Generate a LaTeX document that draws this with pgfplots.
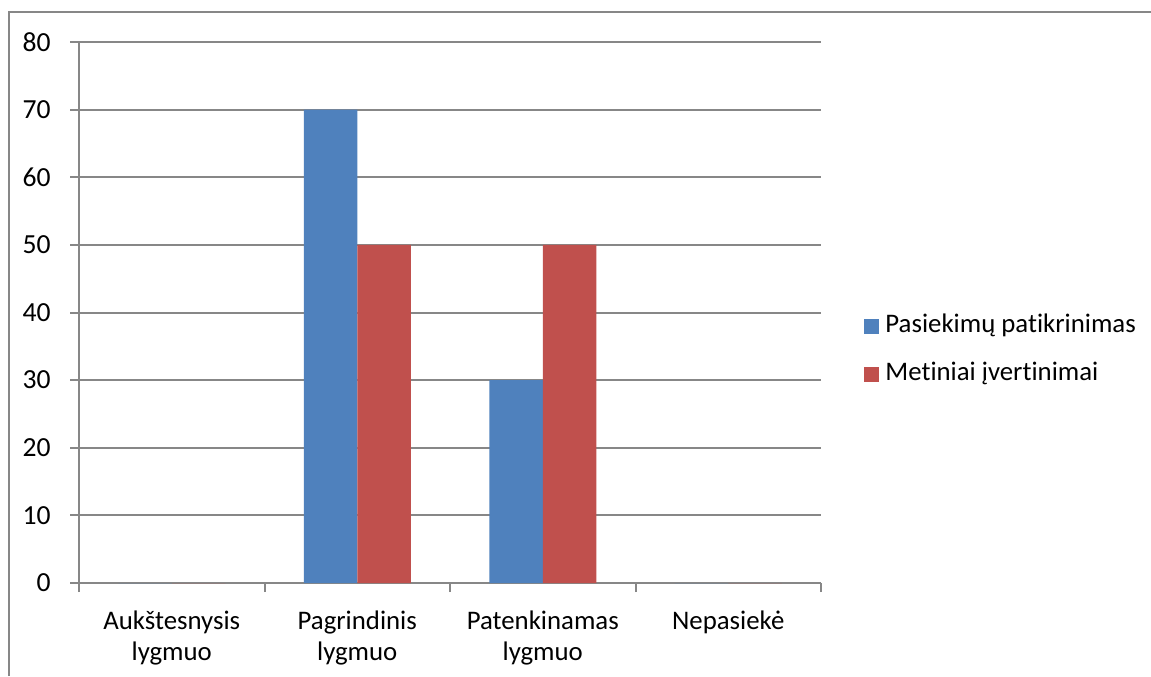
\documentclass[border=0pt]{standalone}
\usepackage{fontspec}
\setmainfont{Carlito}[Ligatures=NoCommon]
\usepackage{pgfplots}
\pgfplotsset{compat=1.18}
\definecolor{serblue}{HTML}{4F81BD}
\definecolor{serred}{HTML}{C0504D}
\definecolor{gridgray}{HTML}{878787}
\begin{document}
\fontsize{13.4}{16}\selectfont
\begin{tikzpicture}
\useasboundingbox (0,0) rectangle (575.5pt,338pt);
% outer chart frame (only top and left edge visible)
\draw[gridgray, line width=1pt] (4.5pt,0pt) -- (4.5pt,332pt) -- (575.5pt,332pt);
\begin{axis}[
    at={(39.5pt,46.5pt)}, anchor=south west,
    width=371pt, height=270.5pt, scale only axis,
    xmin=-0.5, xmax=3.5, ymin=0, ymax=80,
    ybar=0pt, bar width=26.75pt,
    axis x line=bottom, axis y line=left,
    axis line style={draw=gridgray, line width=1pt, -},
    ytick={0,10,...,80},
    ymajorgrids, major grid style={draw=gridgray, line width=1pt},
    xtick={0,1,2,3},
    xticklabels={Aukštesnysis\\lygmuo, Pagrindinis\\lygmuo, Patenkinamas\\lygmuo, Nepasiekė},
    major x tick style={draw=none},
    minor xtick={-0.5,0.5,1.5,2.5,3.5},
    tick align=outside,
    major tick length=4.5pt, minor tick length=4.5pt,
    tick style={draw=gridgray, line width=1pt},
    xticklabel style={align=center, text width=90pt, anchor=north, yshift=-5pt,
        font=\fontsize{13.4}{15.5}\selectfont},
    yticklabel shift=5pt,
    /pgf/number format/assume math mode=true,
    yticklabel style={font=\fontsize{13.8}{16}\selectfont},
    legend style={at={(1.058,0.43)}, anchor=west, draw=none, fill=none,
        inner sep=0pt, row sep=12pt,
        font=\fontsize{13.4}{16}\selectfont,
        nodes={inner sep=0pt, text height=9pt, text depth=3pt},
        /tikz/every odd column/.append style={column sep=3pt}},
    legend cell align=left,
    legend image code/.code={\fill (0pt,-3.75pt) rectangle (7.5pt,3.75pt);},
]
\addplot[fill=serblue, draw=none] coordinates {(0,0) (1,70) (2,30) (3,0)};
\addlegendentry{Pasiekimų patikrinimas}
\addplot[fill=serred, draw=none] coordinates {(0,0) (1,50) (2,50) (3,0)};
\addlegendentry{Metiniai įvertinimai}
\end{axis}
\end{tikzpicture}
\end{document}
